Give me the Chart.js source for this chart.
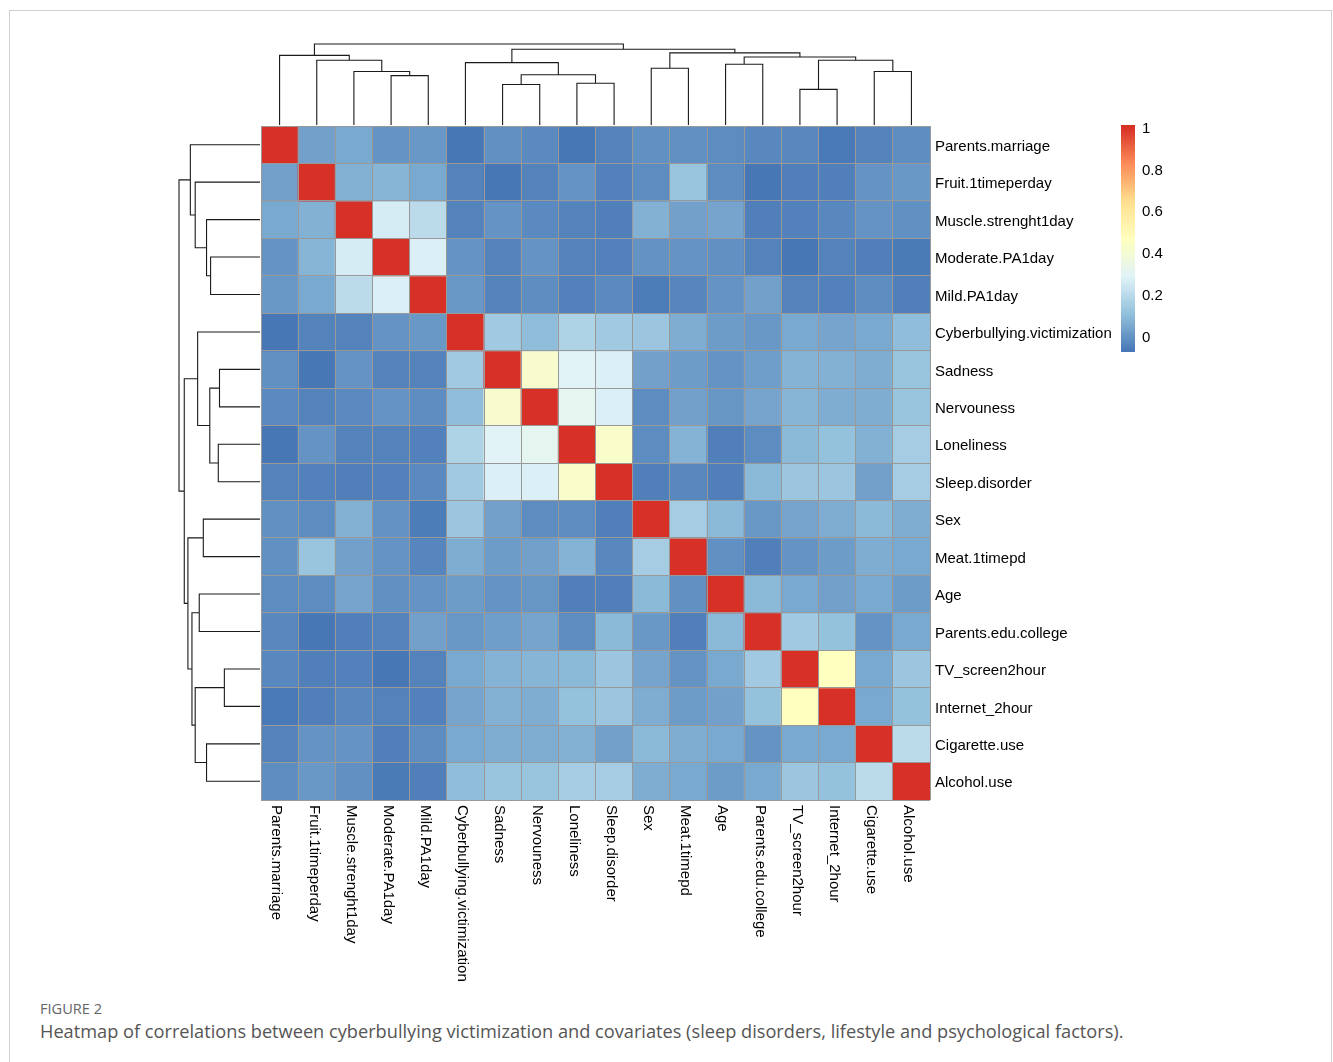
<!DOCTYPE html>
<html><head><meta charset="utf-8">
<script src="https://cdn.jsdelivr.net/npm/chart.js@4.4.1/dist/chart.umd.min.js"></script>
<style>
html,body{margin:0;padding:0;background:#fff;width:1333px;height:1062px;overflow:hidden;}
#frame{position:absolute;left:9px;top:10px;width:1321px;height:1100px;border:1px solid #cfcfcf;border-bottom:none;}
#c{position:absolute;left:0;top:0;}
#fig{position:absolute;left:40px;top:999px;font-family:"Open Sans",sans-serif;font-size:14.6px;color:#666;line-height:18px;}
#cap{position:absolute;left:40px;top:1019px;font-family:"Open Sans",sans-serif;font-size:18.2px;color:#555;line-height:25px;white-space:nowrap;}
</style></head>
<body>
<div id="frame"></div>
<canvas id="c" width="1333" height="995"></canvas>
<div id="fig">FIGURE 2</div>
<div id="cap">Heatmap of correlations between cyberbullying victimization and covariates (sleep disorders, lifestyle and psychological factors).</div>
<script>
// ---- data ----
const rowLabels = ["Parents.marriage","Fruit.1timeperday","Muscle.strenght1day","Moderate.PA1day","Mild.PA1day",
  "Cyberbullying.victimization","Sadness","Nervouness","Loneliness","Sleep.disorder","Sex","Meat.1timepd","Age",
  "Parents.edu.college","TV_screen2hour","Internet_2hour","Cigarette.use","Alcohol.use"];
const colLabels = rowLabels.slice();

const corr = [
  [1, 0.03, 0.05, 0.00, 0.01, -0.07, -0.01, -0.025, -0.07, -0.04, -0.01, -0.01, -0.02, -0.03, -0.03, -0.065, -0.04, -0.015],
  [0.03, 1, 0.07, 0.08, 0.05, -0.04, -0.07, -0.04, 0.00, -0.045, -0.02, 0.12, -0.02, -0.07, -0.05, -0.05, 0.00, 0.01],
  [0.05, 0.07, 1, 0.26, 0.20, -0.04, 0.00, -0.025, -0.04, -0.05, 0.07, 0.03, 0.04, -0.05, -0.045, -0.03, 0.00, -0.01],
  [0.00, 0.08, 0.26, 1, 0.27, 0.00, -0.04, 0.00, -0.04, -0.045, -0.005, 0.00, -0.01, -0.04, -0.07, -0.04, -0.05, -0.06],
  [0.01, 0.05, 0.20, 0.27, 1, 0.01, -0.04, -0.015, -0.045, -0.025, -0.055, -0.035, 0.00, 0.03, -0.04, -0.045, -0.02, -0.05],
  [-0.07, -0.04, -0.04, 0.00, 0.01, 1, 0.14, 0.10, 0.17, 0.14, 0.13, 0.06, 0.02, 0.01, 0.05, 0.04, 0.05, 0.10],
  [-0.01, -0.07, 0.00, -0.04, -0.04, 0.14, 1, 0.42, 0.29, 0.27, 0.03, 0.02, 0.00, 0.025, 0.075, 0.07, 0.06, 0.12],
  [-0.025, -0.04, -0.025, 0.00, -0.015, 0.10, 0.42, 1, 0.31, 0.27, -0.02, 0.03, 0.005, 0.04, 0.08, 0.06, 0.06, 0.12],
  [-0.07, 0.00, -0.04, -0.04, -0.045, 0.17, 0.29, 0.31, 1, 0.43, -0.02, 0.075, -0.05, -0.02, 0.09, 0.11, 0.07, 0.15],
  [-0.04, -0.045, -0.05, -0.045, -0.025, 0.14, 0.27, 0.27, 0.43, 1, -0.05, -0.03, -0.05, 0.09, 0.13, 0.13, 0.03, 0.15],
  [-0.01, -0.02, 0.07, -0.005, -0.055, 0.13, 0.03, -0.02, -0.02, -0.05, 1, 0.15, 0.09, 0.01, 0.04, 0.06, 0.09, 0.06],
  [-0.01, 0.12, 0.03, 0.00, -0.035, 0.06, 0.02, 0.03, 0.075, -0.03, 0.15, 1, -0.01, -0.05, 0.00, 0.02, 0.06, 0.05],
  [-0.02, -0.02, 0.04, -0.01, 0.00, 0.02, 0.00, 0.005, -0.05, -0.05, 0.09, -0.01, 1, 0.09, 0.05, 0.03, 0.05, 0.02],
  [-0.03, -0.07, -0.05, -0.04, 0.03, 0.01, 0.025, 0.04, -0.02, 0.09, 0.01, -0.05, 0.09, 1, 0.14, 0.11, 0.00, 0.05],
  [-0.03, -0.05, -0.045, -0.07, -0.04, 0.05, 0.075, 0.08, 0.09, 0.13, 0.04, 0.00, 0.05, 0.14, 1, 0.46, 0.05, 0.13],
  [-0.065, -0.05, -0.03, -0.04, -0.045, 0.04, 0.07, 0.06, 0.11, 0.13, 0.06, 0.02, 0.03, 0.11, 0.46, 1, 0.05, 0.11],
  [-0.04, 0.00, 0.00, -0.05, -0.02, 0.05, 0.06, 0.06, 0.07, 0.03, 0.09, 0.06, 0.05, 0.00, 0.05, 0.05, 1, 0.20],
  [-0.015, 0.01, -0.01, -0.06, -0.05, 0.10, 0.12, 0.12, 0.15, 0.15, 0.06, 0.05, 0.02, 0.05, 0.13, 0.11, 0.20, 1]
];

// hierarchical clustering merges (node ids: leaves 0..17, merges 18..34)
const mergeLeft   = [3, 2, 1, 0, 6, 8, 22, 5, 10, 12, 14, 16, 28, 27, 26, 25, 21];
const mergeRight  = [4, 18, 19, 20, 7, 9, 23, 24, 11, 13, 15, 17, 29, 30, 31, 32, 33];
const mergeHeight = [0.61, 0.66, 0.80, 0.86, 0.50, 0.515, 0.62, 0.77, 0.70, 0.75, 0.44, 0.66, 0.80, 0.84, 0.89, 0.935, 1.0];

const legendTicks = [0, 0.2, 0.4, 0.6, 0.8, 1];
const legendTickLabels = ["0", "0.2", "0.4", "0.6", "0.8", "1"];
const legendMin = -0.075, legendMax = 1.0;
const palette = ["#4575B4","#91BFDB","#E0F3F8","#FFFFBF","#FEE090","#FC8D59","#D73027"];

// ---- helpers ----
function hexToRgb(h){ return [parseInt(h.slice(1,3),16), parseInt(h.slice(3,5),16), parseInt(h.slice(5,7),16)]; }
function colorFor(v){
  let t = (v - legendMin) / (legendMax - legendMin);
  t = Math.max(0, Math.min(1, t));
  const p = t * (palette.length - 1);
  const i = Math.min(palette.length - 2, Math.floor(p));
  const f = p - i;
  const a = hexToRgb(palette[i]), b = hexToRgb(palette[i+1]);
  const c = a.map((x, k) => Math.round(x + (b[k] - x) * f));
  return `rgb(${c[0]},${c[1]},${c[2]})`;
}

const FONT = '"Liberation Sans", Arial, sans-serif';
const n = rowLabels.length;

const datasets = rowLabels.map((rl, i) => ({
  label: rl,
  data: colLabels.map(() => [i, i + 1]),
  backgroundColor: colLabels.map((_, j) => colorFor(corr[i][j])),
  borderWidth: 0,
  barPercentage: 1,
  categoryPercentage: 1,
  grouped: false,
  inflateAmount: 0.5
}));

const overlay = {
  id: 'overlay',
  afterDraw(chart) {
    const ctx = chart.ctx, xs = chart.scales.x, ys = chart.scales.y, area = chart.chartArea;
    ctx.save();
    // column labels (rotated clockwise)
    ctx.font = '15px ' + FONT;
    ctx.fillStyle = '#000';
    ctx.textAlign = 'left';
    ctx.textBaseline = 'middle';
    colLabels.forEach((lab, j) => {
      const px = xs.getPixelForValue(j) - 3;
      ctx.save();
      ctx.translate(px, area.bottom + 5);
      ctx.rotate(Math.PI / 2);
      ctx.fillText(lab, 0, 0);
      ctx.restore();
    });

    // dendrograms
    const maxH = Math.max(...mergeHeight);
    const S = 81 / maxH;
    ctx.strokeStyle = '#1a1a1a';
    ctx.lineWidth = 1.1;
    function drawTree(leafPos, toPix) {
      const pos = [], hh = [];
      for (let i = 0; i < n; i++) { pos[i] = leafPos(i); hh[i] = 0; }
      ctx.beginPath();
      mergeLeft.forEach((a, k) => {
        const b = mergeRight[k], h = mergeHeight[k], id = n + k;
        pos[id] = (pos[a] + pos[b]) / 2; hh[id] = h;
        const p1 = toPix(pos[a], hh[a]), p2 = toPix(pos[a], h), p3 = toPix(pos[b], h), p4 = toPix(pos[b], hh[b]);
        ctx.moveTo(p1[0], p1[1]); ctx.lineTo(p2[0], p2[1]); ctx.lineTo(p3[0], p3[1]); ctx.lineTo(p4[0], p4[1]);
      });
      ctx.stroke();
    }
    drawTree(j => xs.getPixelForValue(j), (p, h) => [p, area.top - 1 - h * S]);
    drawTree(i => ys.getPixelForValue(i + 0.5), (p, h) => [area.left - 1 - h * S, p]);

    // colour legend
    const barX = 1121, barW = 14, barTop = 127, barBottom = 352;
    const vToY = v => barBottom - (v - legendMin) / (legendMax - legendMin) * (barBottom - barTop);
    const g = ctx.createLinearGradient(0, barBottom, 0, barTop);
    palette.forEach((c, k) => g.addColorStop(k / (palette.length - 1), c));
    ctx.fillStyle = g;
    ctx.fillRect(barX, barTop - 2, barW, barBottom - barTop + 2);
    ctx.fillStyle = '#000';
    ctx.font = '15px ' + FONT;
    ctx.textAlign = 'left';
    ctx.textBaseline = 'middle';
    legendTicks.forEach((v, k) => ctx.fillText(legendTickLabels[k], barX + barW + 7, vToY(v) + 1.5));
    ctx.restore();
  }
};

new Chart(document.getElementById('c'), {
  type: 'bar',
  data: { labels: colLabels, datasets },
  options: {
    responsive: false,
    animation: false,
    devicePixelRatio: 1,
    layout: { padding: { left: 261, right: 213, top: 126, bottom: 195 } },
    plugins: { legend: { display: false }, tooltip: { enabled: false } },
    scales: {
      x: {
        type: 'category', offset: true,
        grid: { offset: true, color: '#999999', lineWidth: 1, drawTicks: false, z: 1 },
        border: { display: false },
        ticks: { display: false },
        afterFit: s => { s.height = 0; }
      },
      y: {
        type: 'linear', position: 'right', reverse: true, min: 0, max: n,
        grid: { display: false, drawTicks: false }, border: { display: false },
        afterBuildTicks: s => { s.ticks = rowLabels.map((_, i) => ({ value: i + 0.5 })); },
        ticks: { autoSkip: false, callback: (v, i) => rowLabels[i], font: { family: FONT, size: 15 }, color: '#000', padding: 5, labelOffset: 2 },
        afterFit: s => { s.width = 190; }
      },
      yg: {
        type: 'linear', position: 'left', reverse: true, min: 0, max: n,
        grid: { color: '#999999', lineWidth: 1, drawTicks: false, z: 1 },
        border: { display: false },
        ticks: { display: false, stepSize: 1 },
        afterFit: s => { s.width = 0; }
      }
    }
  },
  plugins: [overlay]
});
</script>
</body></html>
